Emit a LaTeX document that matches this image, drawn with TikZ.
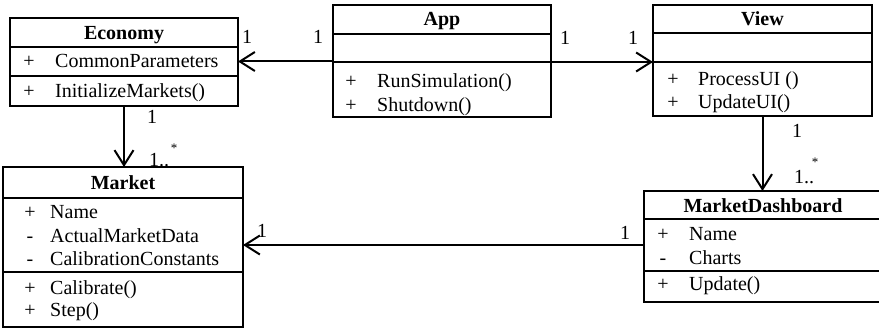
\documentclass[tikz,border=0pt]{standalone}
\usepackage{fontspec}
\setmainfont{Liberation Serif}
\usetikzlibrary{arrows.meta}
\begin{document}
\begin{tikzpicture}[x=1pt,y=-1pt,
  box/.style={draw, line width=1.3pt, anchor=north west, inner sep=0pt, outer sep=0pt},
  txt/.style={inner sep=0pt, font=\fontsize{20}{24}\selectfont},
  sml/.style={inner sep=0pt, font=\fontsize{13}{15}\selectfont},
  arr/.style={line width=2pt, -{Straight Barb[length=15pt,width=19pt,line width=2pt]}}]
\useasboundingbox (0,0) rectangle (879,329);
\clip (0,0) rectangle (879,329);
% Economy
\node[box, minimum width=228pt, minimum height=29pt] (ecoH) at (10,18) {};
\node[box, minimum width=228pt, minimum height=29pt] (ecoA) at (10,47) {};
\node[box, minimum width=228pt, minimum height=30pt] (ecoO) at (10,76) {};
\node[txt, anchor=base] (ecoT) at (124,39.5) {\textbf{Economy}};
\node[txt, anchor=base] (ecoA1s) at (29,68) {+};
\node[txt, anchor=base west] (ecoA1) at (55,68) {CommonParameters};
\node[txt, anchor=base] (ecoO1s) at (29,97.5) {+};
\node[txt, anchor=base west] (ecoO1) at (55,97.5) {InitializeMarkets()};
% App
\node[box, minimum width=218pt, minimum height=29pt] (appH) at (333,5) {};
\node[box, minimum width=218pt, minimum height=28pt] (appA) at (333,34) {};
\node[box, minimum width=218pt, minimum height=55pt] (appO) at (333,62) {};
\node[txt, anchor=base] (appT) at (442,26) {\textbf{App}};
\node[txt, anchor=base] (appO1s) at (351,88) {+};
\node[txt, anchor=base west] (appO1) at (377,88) {RunSimulation()};
\node[txt, anchor=base] (appO2s) at (351,111) {+};
\node[txt, anchor=base west] (appO2) at (377,111) {Shutdown()};
% View
\node[box, minimum width=219pt, minimum height=28pt] (viewH) at (653,5) {};
\node[box, minimum width=219pt, minimum height=29pt] (viewA) at (653,33) {};
\node[box, minimum width=219pt, minimum height=54pt] (viewO) at (653,62) {};
\node[txt, anchor=base] (viewT) at (762.5,26) {\textbf{View}};
\node[txt, anchor=base] (viewO1s) at (673,85) {+};
\node[txt, anchor=base west] (viewO1) at (698,85) {ProcessUI ()};
\node[txt, anchor=base] (viewO2s) at (673,108) {+};
\node[txt, anchor=base west] (viewO2) at (698,108) {UpdateUI()};
% Market
\node[box, minimum width=240pt, minimum height=31pt] (mkH) at (3,167) {};
\node[box, minimum width=240pt, minimum height=74pt] (mkA) at (3,198) {};
\node[box, minimum width=240pt, minimum height=55pt] (mkO) at (3,272) {};
\node[txt, anchor=base] (mkT) at (123,189) {\textbf{Market}};
\node[txt, anchor=base] (mkA1s) at (30,218) {+};
\node[txt, anchor=base west] (mkA1) at (50,218) {Name};
\node[txt, anchor=base] (mkA2s) at (30,242) {-};
\node[txt, anchor=base west] (mkA2) at (50,242) {ActualMarketData};
\node[txt, anchor=base] (mkA3s) at (30,265) {-};
\node[txt, anchor=base west] (mkA3) at (50,265) {CalibrationConstants};
\node[txt, anchor=base] (mkO1s) at (30,294) {+};
\node[txt, anchor=base west] (mkO1) at (50,294) {Calibrate()};
\node[txt, anchor=base] (mkO2s) at (30,316) {+};
\node[txt, anchor=base west] (mkO2) at (50,316) {Step()};
% MarketDashboard
\node[box, minimum width=238pt, minimum height=28pt] (mdH) at (644,191) {};
\node[box, minimum width=238pt, minimum height=52pt] (mdA) at (644,219) {};
\node[box, minimum width=238pt, minimum height=31pt] (mdO) at (644,271) {};
\node[txt, anchor=base] (mdT) at (763,212) {\textbf{MarketDashboard}};
\node[txt, anchor=base] (mdA1s) at (663,240) {+};
\node[txt, anchor=base west] (mdA1) at (689,240) {Name};
\node[txt, anchor=base] (mdA2s) at (663,264) {-};
\node[txt, anchor=base west] (mdA2) at (689,264) {Charts};
\node[txt, anchor=base] (mdO1s) at (663,290) {+};
\node[txt, anchor=base west] (mdO1) at (689,290) {Update()};
% connectors
\draw[arr] (ecoA.east -| appA.west) -- (ecoA.east);
\draw[arr] (appA.south east) -- (appA.south east -| viewA.west);
\draw[arr] (ecoO.south) -- (ecoO.south |- mkH.north);
\draw[arr] (viewO.south) -- (viewO.south |- mdH.north);
\draw[arr] (mdA.west) -- (mdA.west -| mkA.east);
% multiplicities
\node[txt, anchor=base] (m1) at (247,44) {1};
\node[txt, anchor=base] (m2) at (318,44) {1};
\node[txt, anchor=base] (m3) at (565,45) {1};
\node[txt, anchor=base] (m4) at (633,45) {1};
\node[txt, anchor=base] (m5) at (152,124) {1};
\node[txt, anchor=base west] (m6) at (149,166) {1..};
\node[sml, anchor=base] (m6s) at (174,152) {*};
\node[txt, anchor=base] (m7) at (797,137) {1};
\node[txt, anchor=base west] (m8) at (794,183) {1..};
\node[sml, anchor=base] (m8s) at (815,166) {*};
\node[txt, anchor=base] (m9) at (262,237) {1};
\node[txt, anchor=base] (m10) at (625,239) {1};
\end{tikzpicture}
\end{document}
